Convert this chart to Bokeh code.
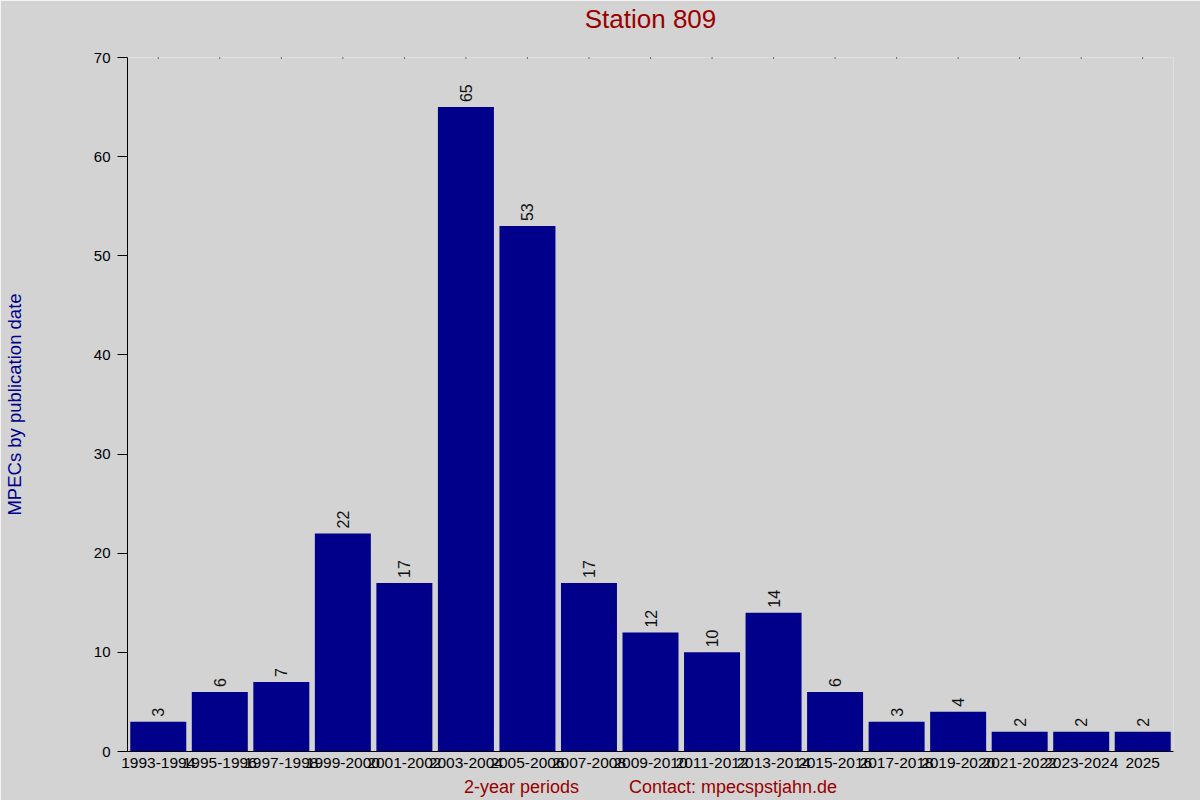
import math
from bokeh.plotting import figure
from bokeh.models import ColumnDataSource, Range1d, CategoricalAxis, FixedTicker
from bokeh.core.properties import value
from bokeh.embed import file_html
from bokeh.resources import INLINE

periods = ["1993-1994", "1995-1996", "1997-1998", "1999-2000", "2001-2002",
           "2003-2004", "2005-2006", "2007-2008", "2009-2010", "2011-2012",
           "2013-2014", "2015-2016", "2017-2018", "2019-2020", "2021-2022",
           "2023-2024", "2025"]
counts = [3, 6, 7, 22, 17, 65, 53, 17, 12, 10, 14, 6, 3, 4, 2, 2, 2]
y_ticks = [0, 10, 20, 30, 40, 50, 60, 70]
title_text = "Station 809"
y_title = "MPECs by publication date"
x_title = "2-year periods"
contact_text = "Contact: mpecspstjahn.de"

FONT = "Liberation Sans"
BG = "#d3d3d3"
BAR = "#00008b"
RED = "#990000"

src = ColumnDataSource(dict(period=periods, count=counts,
                            label=[str(c) for c in counts]))
ymax = max(y_ticks)

p = figure(width=1200, height=800, x_range=periods,
           y_range=Range1d(0, ymax),
           output_backend="svg", toolbar_location=None,
           min_border_left=126, min_border_right=27,
           min_border_top=56, min_border_bottom=49)
p.background_fill_color = BG
p.border_fill_color = BG
p.outline_line_color = None
p.xgrid.grid_line_color = None
p.ygrid.grid_line_color = None

p.vbar(x="period", top="count", width=0.91, source=src,
       fill_color=BAR, line_color=None)

p.text(x="period", y="count", text="label", source=src,
       angle=math.pi / 2, text_align="left", text_baseline="middle",
       y_offset=-5, text_font=value(FONT), text_font_size="16px",
       text_color="#111111")

# tiny dots along the top edge at each category
p.rect(x=periods, y=[ymax] * len(periods), width=1, height=2,
       width_units="screen", height_units="screen",
       fill_color="black", line_color=None)

# y axis
ya = p.left[0]
ya.ticker = y_ticks
ya.axis_line_color = "black"
ya.major_tick_line_color = "black"
ya.major_tick_out = 10
ya.major_tick_in = 0
ya.minor_tick_line_color = None
ya.major_label_standoff = 7
ya.major_label_text_font = FONT
ya.major_label_text_font_size = "15px"
ya.major_label_text_color = "black"
ya.axis_label = y_title
ya.axis_label_standoff = 66
ya.axis_label_text_font = FONT
ya.axis_label_text_font_size = "18.5px"
ya.axis_label_text_line_height = 0.5
ya.axis_label_text_font_style = "normal"
ya.axis_label_text_color = BAR

# x axis (below)
xa = p.below[0]
xa.axis_line_color = "black"
xa.major_tick_line_color = None
xa.major_tick_out = 0
xa.major_tick_in = 0
xa.major_label_standoff = 6
xa.major_label_text_font = FONT
xa.major_label_text_font_size = "15.5px"
xa.major_label_text_color = "black"
xa.axis_label = x_title + "\u00a0" * 10 + contact_text
xa.axis_label_standoff = 6
xa.axis_label_text_font = FONT
xa.axis_label_text_font_size = "18px"
xa.axis_label_text_font_style = "normal"
xa.axis_label_text_color = RED

# title drawn as the label of a tick-less axis above the plot
top_axis = CategoricalAxis(ticker=FixedTicker(ticks=[]),
                           axis_line_color=None,
                           major_tick_line_color=None,
                           minor_tick_line_color=None,
                           major_tick_out=0, major_tick_in=0,
                           major_label_standoff=0,
                           axis_label=title_text,
                           axis_label_standoff=24,
                           axis_label_text_font=FONT,
                           axis_label_text_font_size="26px",
                           axis_label_text_font_style="normal",
                           axis_label_text_color=RED)
p.add_layout(top_axis, "above")

open("out.html", "w").write(file_html(p, INLINE))
